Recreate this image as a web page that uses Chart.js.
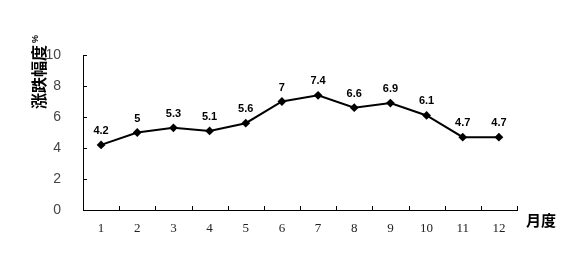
<!DOCTYPE html>
<html>
<head>
<meta charset="utf-8">
<script src="https://cdn.jsdelivr.net/npm/chart.js@4"></script>
<style>
  html, body { margin: 0; padding: 0; background: #fff; }
  #wrap { width: 581px; height: 260px; position: relative; }
</style>
</head>
<body>
<div id="wrap"><canvas id="myChart"></canvas></div>
<script>
const months = ['1','2','3','4','5','6','7','8','9','10','11','12']
const changes = [4.2, 5, 5.3, 5.1, 5.6, 7, 7.4, 6.6, 6.9, 6.1, 4.7, 4.7]
const yTitle = '涨跌幅度'
const yUnit = '%'
const xTitle = '月度'

// ticks drawn inward, value labels and the two titles
const extras = {
	id: 'extras',
	afterDraw(chart) {
		const ctx = chart.ctx
		const area = chart.chartArea
		const xs = chart.scales.x, ys = chart.scales.y
		ctx.save()
		ctx.strokeStyle = '#000'
		ctx.lineWidth = 1
		ys.ticks.forEach((t, i) => {
			const y = Math.round(ys.getPixelForTick(i)) + 0.5
			ctx.beginPath(); ctx.moveTo(area.left, y); ctx.lineTo(area.left + 4, y); ctx.stroke()
		})
		const step = area.width / months.length
		for (let k = 1; k <= months.length; k++) {
			const x = Math.round(area.left + k * step) + 0.5
			ctx.beginPath(); ctx.moveTo(x, area.bottom); ctx.lineTo(x, area.bottom - 4); ctx.stroke()
		}

		// value labels
		const meta = chart.getDatasetMeta(0)
		ctx.fillStyle = '#000'
		ctx.font = 'bold 11px "Liberation Sans", Arial, sans-serif'
		ctx.textAlign = 'center'
		ctx.textBaseline = 'middle'
		meta.data.forEach((pt, i) => {
			ctx.fillText(String(changes[i]), pt.x, pt.y - 14)
		})

		// titles
		ctx.font = 'bold 15px "Noto Sans CJK SC", sans-serif'
		ctx.fillText(xTitle, 541, 220)
		ctx.translate(39, 72)
		ctx.rotate(-Math.PI / 2)
		ctx.textAlign = 'left'
		ctx.font = 'bold 16px "Noto Sans CJK SC", sans-serif'
		const w = ctx.measureText(yTitle).width
		ctx.font = 'bold 9px "Liberation Sans", sans-serif'
		const wu = ctx.measureText(yUnit).width
		const start = -(w + wu + 2) / 2
		ctx.font = 'bold 16px "Noto Sans CJK SC", sans-serif'
		ctx.fillText(yTitle, start, 0)
		ctx.font = 'bold 9px "Liberation Sans", sans-serif'
		ctx.fillText(yUnit, start + w + 2, -3)
		ctx.restore()
	}
}

new Chart(document.getElementById('myChart'), {
	type: 'line',
	data: {
		labels: months,
		datasets: [{
			data: changes,
			borderColor: '#000',
			borderWidth: 2,
			pointStyle: 'rectRot',
			pointRadius: 3,
			pointBackgroundColor: '#000',
			pointBorderColor: '#000',
			tension: 0
		}]
	},
	options: {
		responsive: true,
		maintainAspectRatio: false,
		animation: false,
		layout: { padding: { left: 0, right: 64, top: 55, bottom: 0 } },
		plugins: { legend: { display: false }, tooltip: { enabled: false } },
		scales: {
			x: {
				offset: true,
				grid: { display: false, offset: true },
				border: { color: '#000', width: 1 },
				ticks: { color: '#222', padding: 3, maxRotation: 0,
					font: { family: '"Liberation Serif", "Times New Roman", serif', size: 13 } },
				afterFit: s => { s.height = 50 }
			},
			y: {
				min: 0, max: 10,
				grid: { display: false },
				border: { color: '#000', width: 1 },
				ticks: { stepSize: 2, color: '#444', padding: 14,
					font: { family: '"Liberation Sans", Arial, sans-serif', size: 14 } },
				afterFit: s => { s.width = 83 }
			}
		}
	},
	plugins: [extras]
})
</script>
</body>
</html>
